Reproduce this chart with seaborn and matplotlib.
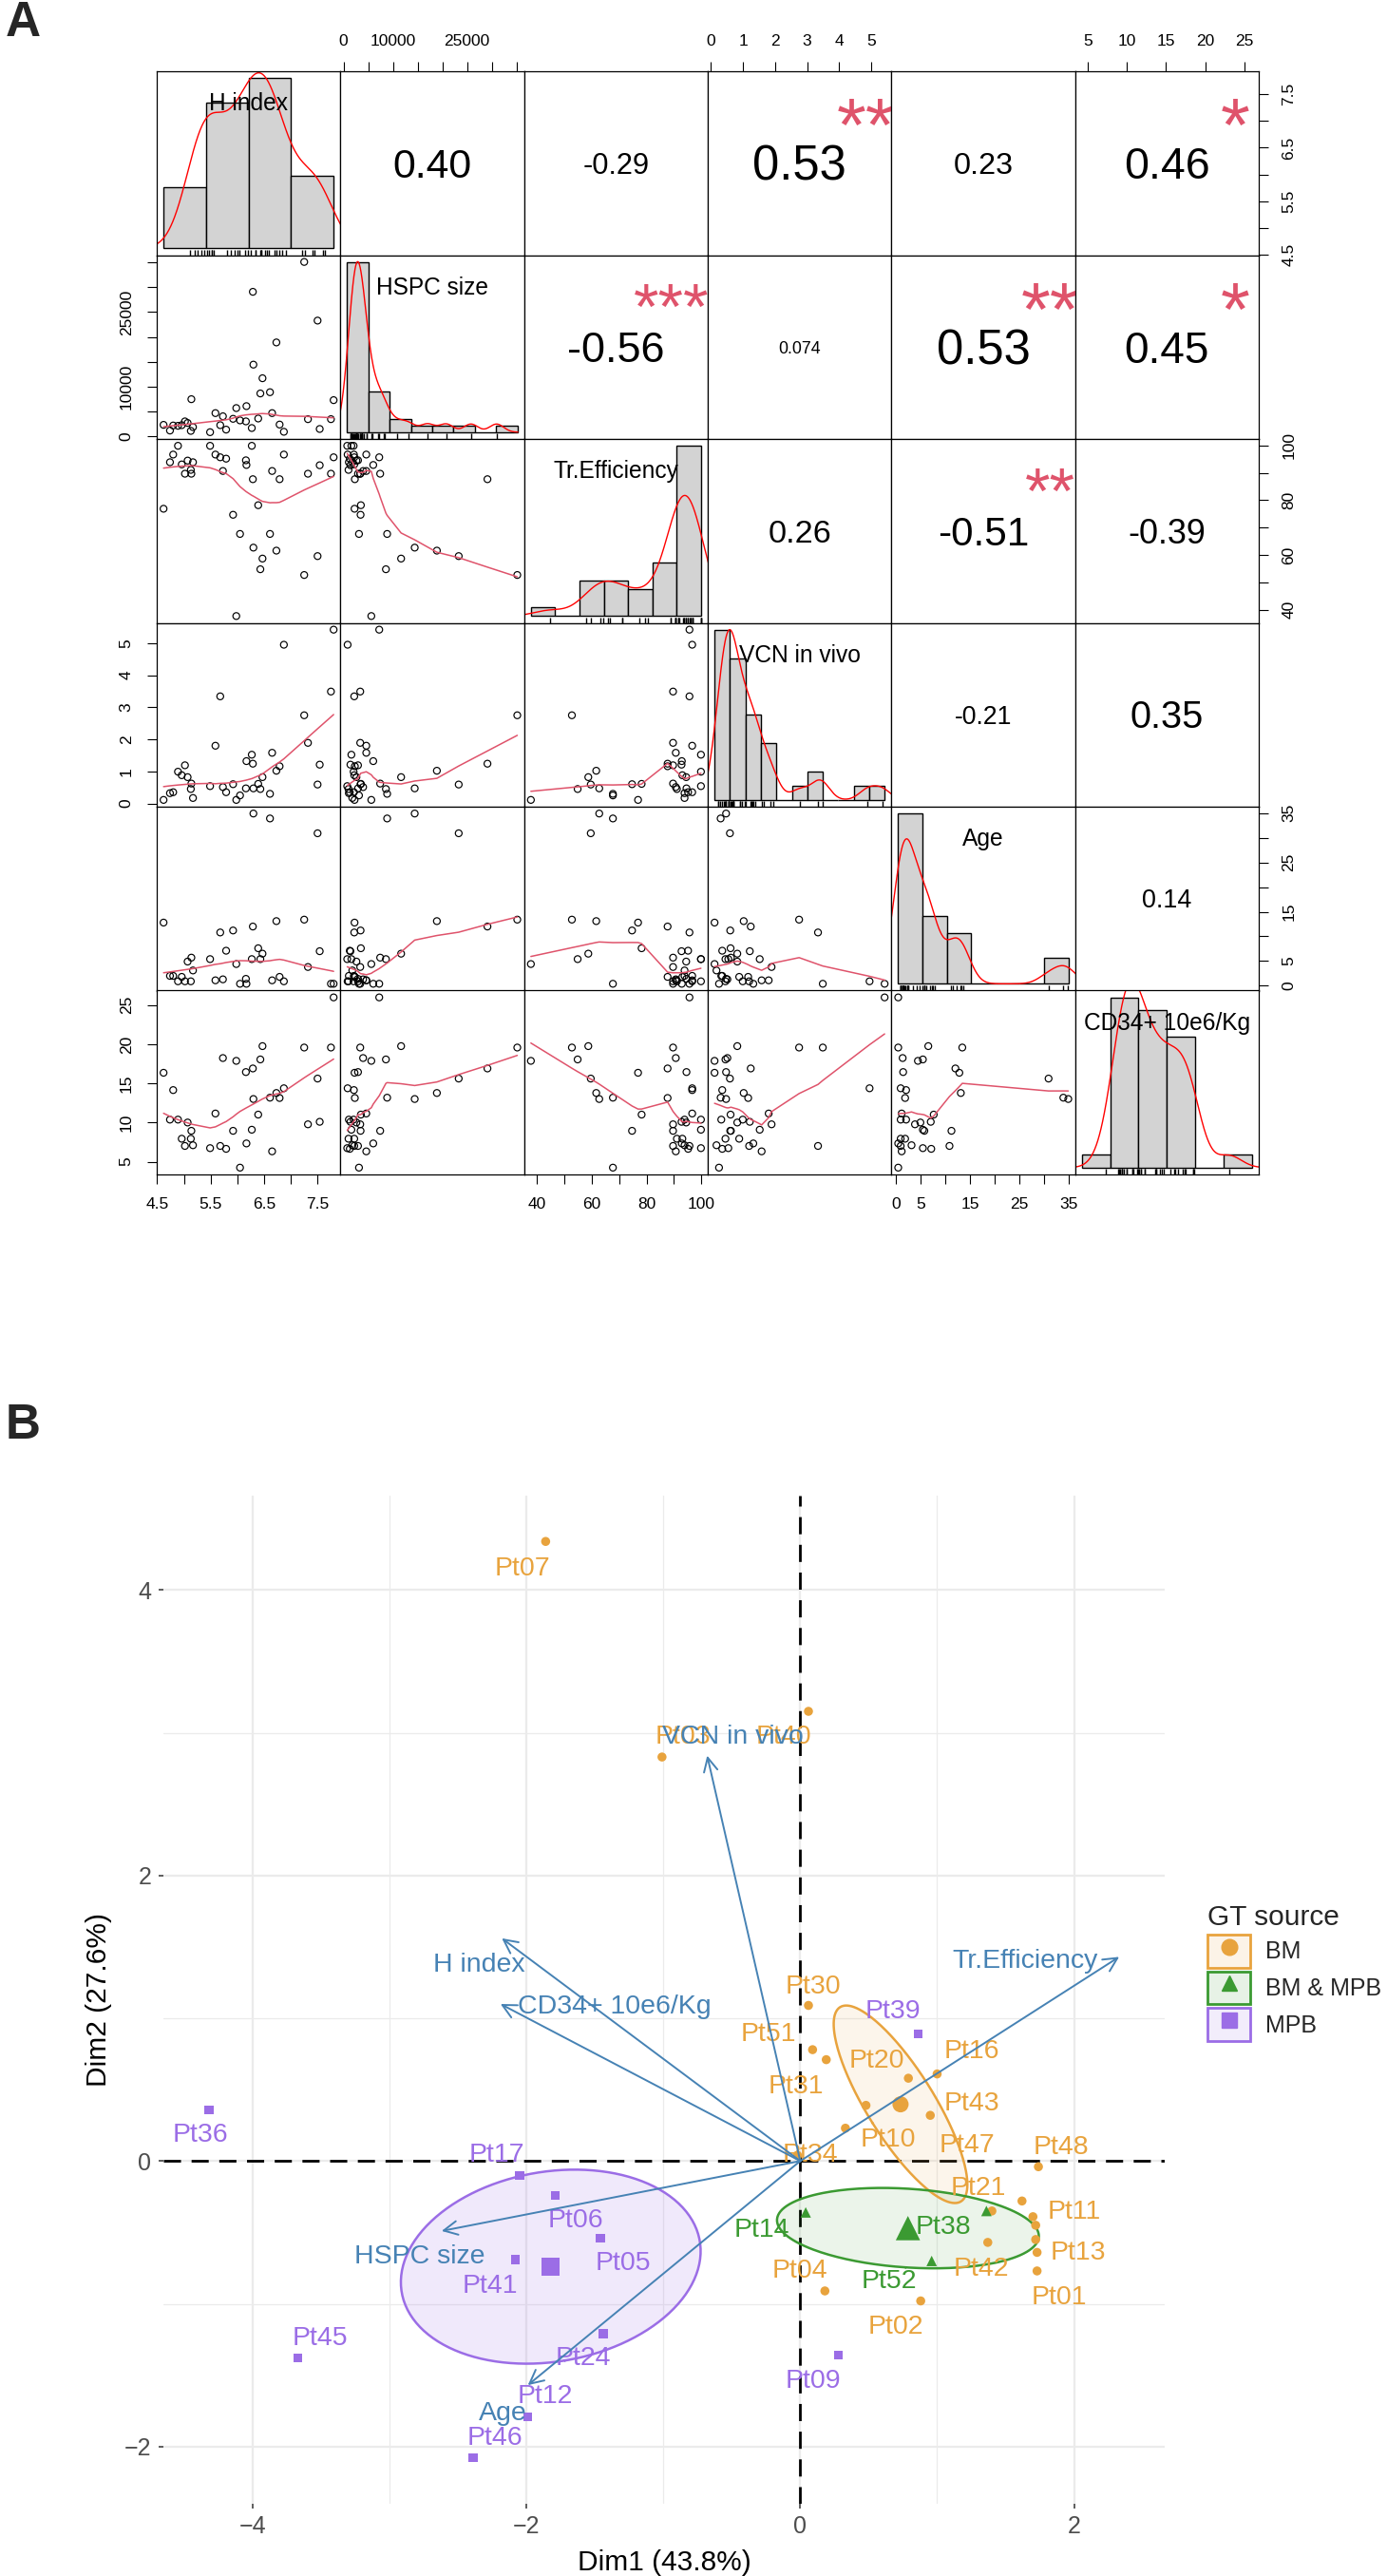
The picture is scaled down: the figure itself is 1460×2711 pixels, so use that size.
import numpy as np
import pandas as pd
import matplotlib
matplotlib.use("Agg")
import matplotlib.pyplot as plt
import seaborn as sns
from matplotlib.patches import Rectangle
from matplotlib.lines import Line2D
from matplotlib.legend_handler import HandlerTuple
from matplotlib.colors import to_rgba

sns.set_theme(style="white")
plt.rcParams['font.family'] = ['Liberation Sans', 'DejaVu Sans']

# ======================= DATA : panel A (37 patients) =======================
var_names = ["H index", "HSPC size", "Tr.Efficiency", "VCN in vivo", "Age", "CD34+ 10e6/Kg"]
h_index = [4.62, 4.74, 4.80, 4.89, 4.96, 5.02, 5.07, 5.13, 5.14, 5.17, 5.49, 5.59, 5.68,
           5.73, 5.79, 5.92, 5.98, 6.05, 6.16, 6.17, 6.27, 6.29, 6.30, 6.39, 6.43, 6.47,
           6.61, 6.65, 6.73, 6.79, 6.87, 7.25, 7.32, 7.50, 7.54, 7.75, 7.80]
hspc_size = [2240, 1090, 2110, 2050, 2180, 2940, 2620, 1020, 7420, 1790, 760, 4610, 2180,
             3970, 1280, 3460, 5630, 3140, 2940, 6020, 1600, 29100, 14400, 3520, 8580, 11650,
             8830, 4610, 18880, 2300, 840, 35130, 3390, 23290, 1410, 3390, 7230]
tr_eff = [76.9, 93.9, 96.7, 99.9, 93.1, 89.7, 94.5, 91.1, 89.7, 93.9, 99.9, 96.7, 95.7,
          90.7, 95.2, 74.7, 37.7, 67.7, 94.6, 92.9, 99.9, 87.7, 62.7, 78.2, 54.8, 58.7,
          67.7, 90.7, 61.6, 87.7, 96.7, 52.7, 89.7, 59.6, 92.8, 89.7, 95.7]
vcn = [0.11, 0.32, 0.35, 0.99, 0.88, 1.19, 0.82, 0.45, 0.62, 0.17, 0.54, 1.80, 3.34,
       0.51, 0.35, 0.60, 0.11, 0.25, 0.47, 1.32, 1.52, 1.24, 0.47, 0.61, 0.45, 0.82,
       0.30, 1.58, 1.02, 1.16, 4.95, 2.75, 1.89, 0.59, 1.21, 3.49, 5.42]
age = [12.8, 2.0, 2.0, 0.9, 1.8, 0.9, 4.9, 0.9, 5.7, 3.1, 5.4, 1.1, 10.8,
       1.3, 7.1, 11.2, 4.4, 0.4, 1.4, 0.4, 5.4, 12.0, 34.9, 7.6, 5.4, 6.5,
       33.9, 1.1, 13.1, 1.8, 0.9, 13.4, 3.8, 30.9, 7.0, 0.4, 0.4]
cd34 = [16.35, 10.37, 14.14, 10.37, 7.93, 7.01, 10.0, 7.93, 8.94, 7.10, 6.73, 11.15, 7.01,
        18.23, 6.64, 8.94, 17.87, 4.24, 16.44, 7.33, 9.08, 16.9, 13.0, 11.01, 18.05, 19.75,
        13.17, 6.32, 13.77, 13.13, 14.37, 19.57, 9.77, 15.61, 10.09, 19.57, 25.97]

# correlation text and significance of the upper panels (row-major upper triangle)
cor_text = ["0.40", "-0.29", "0.53", "0.23", "0.46",
            "-0.56", "0.074", "0.53", "0.45",
            "0.26", "-0.51", "-0.39",
            "-0.21", "0.35",
            "0.14"]
cor_stars = ["", "", "**", "", "*",
             "***", "", "**", "*",
             "", "**", "",
             "", "",
             ""]

hist_breaks = {
    "H index": [4, 5, 6, 7, 8],
    "HSPC size": list(range(0, 40001, 5000)),
    "Tr.Efficiency": list(range(30, 101, 10)),
    "VCN in vivo": [0, 0.5, 1, 1.5, 2, 2.5, 3, 3.5, 4, 4.5, 5, 5.5],
    "Age": list(range(0, 36, 5)),
    "CD34+ 10e6/Kg": list(range(0, 31, 5)),
}
axis_ticks = {
    "H index": ([4.5, 5, 5.5, 6, 6.5, 7, 7.5], [4.5, 5.5, 6.5, 7.5]),
    "HSPC size": ([0, 5000, 10000, 15000, 20000, 25000, 30000, 35000], [0, 10000, 25000]),
    "Tr.Efficiency": ([40, 50, 60, 70, 80, 90, 100], [40, 60, 80, 100]),
    "VCN in vivo": ([0, 1, 2, 3, 4, 5], [0, 1, 2, 3, 4, 5]),
    "Age": ([0, 5, 10, 15, 20, 25, 30, 35], [0, 5, 15, 25, 35]),
    "CD34+ 10e6/Kg": ([5, 10, 15, 20, 25], [5, 10, 15, 20, 25]),
}

# ======================= DATA : panel B (PCA biplot) =======================
ind_names = ["Pt36", "Pt17", "Pt06", "Pt05", "Pt41", "Pt24", "Pt12", "Pt46", "Pt45", "Pt09", "Pt39",
             "Pt14", "Pt38", "Pt52",
             "Pt07", "Pt03", "Pt40", "Pt30", "Pt51", "Pt31", "Pt20", "Pt16", "Pt43", "Pt10",
             "Pt47", "Pt34", "Pt48", "Pt21", "Pt19", "Pt11", "Pt22", "Pt26", "Pt42", "Pt13",
             "Pt01", "Pt04", "Pt02"]
ind_dim1 = [-4.32, -2.05, -1.79, -1.46, -2.08, -1.44, -1.99, -2.39, -3.67, 0.28, 0.86,
            0.04, 1.36, 0.96,
            -1.86, -1.01, 0.06, 0.06, 0.09, 0.19, 0.79, 1.00, 0.95, 0.48,
            0.33, -0.02, 1.74, 1.40, 1.62, 1.70, 1.72, 1.72, 1.37, 1.73,
            1.73, 0.18, 0.88]
ind_dim2 = [0.36, -0.10, -0.24, -0.54, -0.69, -1.21, -1.79, -2.08, -1.38, -1.36, 0.89,
            -0.36, -0.35, -0.70,
            4.34, 2.83, 3.15, 1.09, 0.78, 0.71, 0.58, 0.61, 0.32, 0.39,
            0.23, 0.04, -0.04, -0.35, -0.28, -0.39, -0.45, -0.55, -0.57, -0.64,
            -0.77, -0.91, -0.98]
ind_group = ["MPB"] * 11 + ["BM & MPB"] * 3 + ["BM"] * 23

var_dim1 = [-2.18, -2.62, 2.33, -0.68, -1.99, -2.19]
var_dim2 = [1.56, -0.49, 1.43, 2.84, -1.57, 1.10]

# label placement (layout, data coordinates of the text centres)
ind_label_xy = {
    "Pt07": (-2.03, 4.17), "Pt03": (-0.86, 2.99), "Pt40": (-0.12, 2.99),
    "Pt30": (0.095, 1.242), "Pt51": (-0.23, 0.908), "Pt31": (-0.03, 0.542),
    "Pt20": (0.558, 0.72), "Pt16": (1.252, 0.787), "Pt43": (1.252, 0.42),
    "Pt10": (0.639, 0.165), "Pt47": (1.217, 0.131), "Pt34": (0.072, 0.065),
    "Pt48": (1.905, 0.115), "Pt21": (1.30, -0.169), "Pt11": (2.0, -0.34),
    "Pt13": (2.03, -0.625), "Pt01": (1.89, -0.94), "Pt42": (1.32, -0.735),
    "Pt04": (0.0, -0.747), "Pt02": (0.696, -1.14),
    "Pt52": (0.65, -0.825), "Pt38": (1.044, -0.447), "Pt14": (-0.28, -0.467),
    "Pt39": (0.674, 1.065), "Pt36": (-4.38, 0.2), "Pt17": (-2.22, 0.065),
    "Pt06": (-1.64, -0.4), "Pt05": (-1.296, -0.70), "Pt41": (-2.265, -0.86),
    "Pt24": (-1.587, -1.36), "Pt12": (-1.865, -1.627), "Pt46": (-2.233, -1.919),
    "Pt45": (-3.51, -1.222), "Pt09": (0.094, -1.525),
}
var_label_xy = {
    "H index": (-2.343, 1.393), "HSPC size": (-2.783, -0.65), "Tr.Efficiency": (1.646, 1.417),
    "VCN in vivo": (-0.49, 2.99), "Age": (-2.17, -1.75), "CD34+ 10e6/Kg": (-1.36, 1.10),
}

# ======================= helpers =======================
W, H = 1460, 2711
PT = 0.72  # points per pixel at dpi 100


def rect(l, t, w, h):
    return [l / W, 1 - (t + h) / H, w / W, h / H]


def r_lowess(x, y, f=2 / 3, it=3):
    o = np.argsort(np.asarray(x, float), kind="stable")
    x = np.asarray(x, float)[o]
    y = np.asarray(y, float)[o]
    n = len(x)
    ns = max(min(int(f * n + 1e-7), n), 2)
    rw = np.ones(n)
    ys = np.zeros(n)
    rng = x[-1] - x[0]
    for iteration in range(it + 1):
        nleft, nright = 0, ns - 1
        for i in range(n):
            while nright < n - 1 and x[i] - x[nleft] > x[nright + 1] - x[i]:
                nleft += 1
                nright += 1
            h = max(x[i] - x[nleft], x[nright] - x[i])
            h9, h1 = 0.999 * h, 0.001 * h
            w = np.zeros(n)
            j = nleft
            while j < n:
                r = abs(x[j] - x[i])
                if r <= h9:
                    w[j] = 1.0 if r <= h1 else (1 - (r / h) ** 3) ** 3
                    w[j] *= rw[j]
                elif x[j] > x[i]:
                    break
                j += 1
            sw = w.sum()
            if sw <= 0:
                ys[i] = y[i]
                continue
            w = w / sw
            if h > 0:
                a = (w * x).sum()
                b = x[i] - a
                c = (w * (x - a) ** 2).sum()
                if np.sqrt(c) > 0.001 * rng:
                    b /= c
                    w = w * (b * (x - a) + 1)
            ys[i] = (w * y).sum()
        if iteration == it:
            break
        res = y - ys
        cmad = 6 * np.median(np.abs(res))
        if cmad < 1e-7 * np.mean(np.abs(y)):
            break
        rr = np.abs(res) / cmad
        rw = np.where(rr <= 0.001, 1.0, np.where(rr <= 0.999, (1 - rr ** 2) ** 2, 0.0))
    return x, ys


def r_density(v):
    v = np.asarray(v, float)
    n = len(v)
    sd = v.std(ddof=1)
    q75, q25 = np.percentile(v, [75, 25])
    lo = min(sd, (q75 - q25) / 1.34)
    bw = 0.9 * lo * n ** -0.2
    xs = np.linspace(v.min() - 3 * bw, v.max() + 3 * bw, 512)
    d = np.exp(-0.5 * ((xs[:, None] - v[None, :]) / bw) ** 2).sum(1) / (n * bw * np.sqrt(2 * np.pi))
    return xs, d


def vrange(v):
    lo, hi = min(v), max(v)
    p = 0.04 * (hi - lo)
    return lo - p, hi + p


EM = {str(d): 0.556 for d in range(10)}
EM.update({".": 0.278, "-": 0.333})


def em_width(s):
    return sum(EM.get(c, 0.556) for c in s)


def conf_ellipse(x, y, t=2.4477, npts=240):
    x = np.asarray(x, float)
    y = np.asarray(y, float)
    cov = np.cov(x, y) / len(x)
    vals, vecs = np.linalg.eigh(cov)
    th = np.linspace(0, 2 * np.pi, npts)
    circ = np.stack([np.cos(th), np.sin(th)])
    pts = vecs @ (np.sqrt(np.maximum(vals, 0))[:, None] * circ) * t
    return x.mean() + pts[0], y.mean() + pts[1]


# ======================= figure =======================
fig = plt.figure(figsize=(W / 100, H / 100), dpi=100)
fig.patch.set_facecolor("white")

dfA = pd.DataFrame({var_names[0]: h_index, var_names[1]: hspc_size, var_names[2]: tr_eff,
                    var_names[3]: vcn, var_names[4]: age, var_names[5]: cd34})

GX0, GY0, GX1, GY1 = 165, 75, 1325, 1236
cw = (GX1 - GX0) / 6
ch = (GY1 - GY0) / 6
SMOOTH = "#DF536B"
TICK_KW = dict(length=7.5, width=0.8, pad=10, labelsize=12.5, direction="out", colors="black")


def add_axis(ax, side, vname):
    ticks, shown = axis_ticks[vname]
    labs = [("%g" % t) if any(abs(t - s) < 1e-9 for s in shown) else "" for t in ticks]
    if side in ("top", "bottom"):
        ax.set_xticks(ticks)
        ax.tick_params(axis="x", top=(side == "top"), labeltop=(side == "top"),
                       bottom=(side == "bottom"), labelbottom=(side == "bottom"), **TICK_KW)
        ax.set_xticklabels(labs, fontsize=12.5)
    else:
        ax.set_yticks(ticks)
        ax.tick_params(axis="y", left=(side == "left"), labelleft=(side == "left"),
                       right=(side == "right"), labelright=(side == "right"), **TICK_KW)
        ax.set_yticklabels(labs, rotation=90, va="center", fontsize=12.5)


k = 0
upper_idx = {}
for i in range(6):
    for j in range(i + 1, 6):
        upper_idx[(i, j)] = k
        k += 1

lab_fs_px = 0.9 * cw / 7.099

for i in range(6):
    for j in range(6):
        ax = fig.add_axes(rect(GX0 + j * cw, GY0 + i * ch, cw, ch))
        ax.set_facecolor("white")
        for s in ax.spines.values():
            s.set_visible(True)
            s.set_color("black")
            s.set_linewidth(0.9)
        ax.set_xticks([])
        ax.set_yticks([])
        vx = var_names[j]
        vy = var_names[i]
        if i == j:
            vals = np.asarray(dfA[vx], float)
            br = hist_breaks[vx]
            counts, _ = np.histogram(vals, bins=br)
            dens = counts / (len(vals) * np.diff(br))
            maxd = dens.max()
            sns.histplot(x=vals, bins=br, stat="density", color="#D3D3D3", edgecolor="black",
                         linewidth=1.0, alpha=1, ax=ax)
            xs, d = r_density(vals)
            ax.plot(xs, d, color="red", lw=1.0)
            sns.rugplot(x=vals, height=0.03, ax=ax, color="black", lw=0.7, expand_margins=False)
            b0, b1 = br[0], br[-1]
            ax.set_xlim(b0 - 0.04 * (b1 - b0), b1 + 0.04 * (b1 - b0))
            ax.set_ylim(-0.04 * maxd, 1.04 * maxd)
            ax.set_xlabel("")
            ax.set_ylabel("")
            ax.set_xticks([])
            ax.set_yticks([])
            ax.text(0.5, 0.833 - 0.36 * lab_fs_px / ch, vx, transform=ax.transAxes, ha="center",
                    va="baseline", fontsize=lab_fs_px * PT, color="black")
        elif i > j:
            xv = dfA[vx].values
            yv = dfA[vy].values
            sns.scatterplot(x=xv, y=yv, ax=ax, marker="o", s=26, facecolor="none",
                            edgecolor="black", linewidth=0.85, legend=False)
            lx, ly = r_lowess(xv, yv)
            ax.plot(lx, ly, color=SMOOTH, lw=1.1)
            ax.set_xlim(*vrange(dfA[vx]))
            ax.set_ylim(*vrange(dfA[vy]))
            ax.set_xlabel("")
            ax.set_ylabel("")
            ax.set_xticks([])
            ax.set_yticks([])
        else:
            ax.set_xlim(*vrange(dfA[vx]))
            ax.set_ylim(*vrange(dfA[vy]))
            idx = upper_idx[(i, j)]
            txt = cor_text[idx]
            r = abs(float(txt))
            fs0 = 0.8 * cw / em_width(txt)
            fs = fs0 * (r + 0.3) / 1.3
            ax.text(0.5, 0.5 - 0.355 * fs / ch, txt, transform=ax.transAxes, ha="center",
                    va="baseline", fontsize=fs * PT, color="black")
            st = cor_stars[idx]
            if st:
                sx = {1: 0.874, 2: 0.864, 3: 0.80}[len(st)]
                ax.text(sx, 0.8 - 0.5745 * fs0 / ch, st, transform=ax.transAxes, ha="center",
                        va="baseline", fontsize=fs0 * PT, color=SMOOTH)
        # outer axes (R pairs convention)
        if i == 0 and j % 2 == 1:
            add_axis(ax, "top", vx)
        if i == 5 and j % 2 == 0:
            add_axis(ax, "bottom", vx)
        if j == 0 and i % 2 == 1:
            add_axis(ax, "left", vy)
        if j == 5 and i % 2 == 0:
            add_axis(ax, "right", vy)

fig.text(6 / W, 1 - 24 / H, "A", fontsize=37, fontweight="bold", ha="left", va="center")
fig.text(6 / W, 1 - 1501 / H, "B", fontsize=37, fontweight="bold", ha="left", va="center")

# ======================= panel B =======================
dfB = pd.DataFrame({"name": ind_names, "Dim1": ind_dim1, "Dim2": ind_dim2, "group": ind_group})
groups = ["BM", "BM & MPB", "MPB"]
gcol = {"BM": "#E8A33D", "BM & MPB": "#3B9A32", "MPB": "#9B6DE6"}
gmark = {"BM": "o", "BM & MPB": "^", "MPB": "s"}
gsize = {"BM": 47, "BM & MPB": 63, "MPB": 45}
gcent = {"BM": 150, "BM & MPB": 340, "MPB": 190}
galpha = {"BM": 0.10, "BM & MPB": 0.10, "MPB": 0.15}
ARROW = "#4682B4"

axb = fig.add_axes(rect(172, 1574, 1054, 1061))
axb.set_facecolor("white")
allx = np.r_[ind_dim1, var_dim1]
ally = np.r_[ind_dim2, var_dim2]
px = 0.05 * (allx.max() - allx.min())
py = 0.05 * (ally.max() - ally.min())
axb.set_xlim(allx.min() - px, allx.max() + px)
axb.set_ylim(ally.min() - py, ally.max() + py)

axb.set_xticks([-4, -2, 0, 2])
axb.set_xticks([-3, -1, 1], minor=True)
axb.set_yticks([-2, 0, 2, 4])
axb.set_yticks([-1, 1, 3], minor=True)
axb.grid(which="major", color="#EBEBEB", lw=1.6)
axb.grid(which="minor", color="#EBEBEB", lw=0.9)
axb.set_axisbelow(True)
for s in axb.spines.values():
    s.set_visible(False)
axb.tick_params(which="minor", length=0)
axb.tick_params(which="major", length=3.5, width=1.1, color="#333333", labelsize=18,
                labelcolor="#4D4D4D", pad=5.5, bottom=True, left=True)

axb.axhline(0, color="black", lw=2.0, ls=(0, (6.5, 4)), zorder=1.5)
axb.axvline(0, color="black", lw=2.0, ls=(0, (6.5, 4)), zorder=1.5)

for g in groups:
    sub = dfB[dfB["group"] == g]
    ex, ey = conf_ellipse(sub["Dim1"], sub["Dim2"])
    axb.fill(ex, ey, color=gcol[g], alpha=galpha[g], lw=0, zorder=2)
    axb.plot(ex, ey, color=gcol[g], lw=1.8, zorder=2.1)

for g in groups:
    sub = dfB[dfB["group"] == g]
    sns.scatterplot(x=sub["Dim1"].values, y=sub["Dim2"].values, ax=axb, marker=gmark[g],
                    s=gsize[g], color=gcol[g], edgecolor="none", legend=False, zorder=3)
    sns.scatterplot(x=[sub["Dim1"].mean()], y=[sub["Dim2"].mean()], ax=axb, marker=gmark[g],
                    s=gcent[g], color=gcol[g], edgecolor="none", legend=False, zorder=3)

for nm, g in zip(ind_names, ind_group):
    if nm in ind_label_xy:
        lx, ly = ind_label_xy[nm]
        axb.text(lx, ly, nm, color=gcol[g], fontsize=20.5, ha="center",
                 va="center_baseline", zorder=4)

for vn, dx, dy in zip(var_names, var_dim1, var_dim2):
    axb.annotate("", xy=(dx, dy), xytext=(0, 0),
                 arrowprops=dict(arrowstyle="->", color=ARROW, lw=1.4, shrinkA=0, shrinkB=0,
                                 mutation_scale=26), zorder=5)
    tx, ty = var_label_xy[vn]
    axb.text(tx, ty, vn, color=ARROW, fontsize=20.5, ha="center", va="center_baseline", zorder=5)

axb.set_xlabel("Dim1 (43.8%)", fontsize=21.5, labelpad=8, color="black")
axb.set_ylabel("Dim2 (27.6%)", fontsize=21.5, labelpad=9, color="black")

handles = []
for g in groups:
    box = Rectangle((0, 0), 1, 1, facecolor=to_rgba(gcol[g], 0.12), edgecolor=gcol[g], linewidth=2.0)
    mk = Line2D([], [], marker=gmark[g], color=gcol[g], linestyle="none", markersize=12)
    handles.append((box, mk))
leg = axb.legend(handles, groups, handler_map={tuple: HandlerTuple(ndivide=1, pad=0)},
                 title="GT source", loc="upper left", bbox_to_anchor=(1271 / W, 1 - 2004 / H),
                 bbox_transform=fig.transFigure, frameon=False, fontsize=18, title_fontsize=21.5,
                 handlelength=1.8, handleheight=1.76, labelspacing=0.16, handletextpad=0.64,
                 borderpad=0, borderaxespad=0)
leg._legend_box.align = "left"

fig.savefig("out.png", dpi=100, facecolor="white")
